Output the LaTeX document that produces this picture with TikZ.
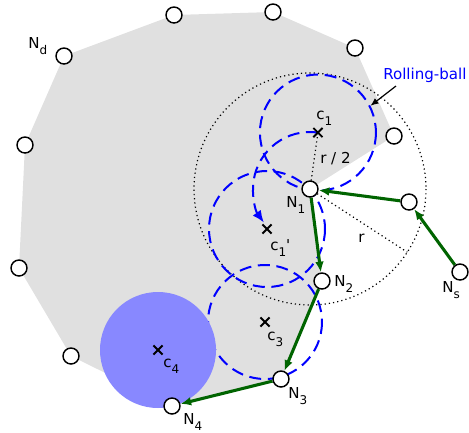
\documentclass[tikz,border=0pt]{standalone}
\usepackage{fontspec}
\setmainfont{DejaVu Sans}
\usetikzlibrary{arrows.meta,shapes.misc}
\definecolor{hullgray}{RGB}{224,224,224}
\definecolor{ballblue}{RGB}{136,136,255}
\definecolor{edgegreen}{RGB}{0,100,0}
\newcommand{\lsub}[1]{\raisebox{-4.5pt}{\fontsize{9}{10}\selectfont #1}}
\pgfdeclarelayer{under}
\pgfsetlayers{under,main}
\begin{document}
\begin{tikzpicture}[x=0.75pt,y=-0.75pt,
  pt/.style={circle,draw=black,fill=white,line width=1.1pt,minimum size=12pt,inner sep=0pt},
  lbl/.style={inner sep=0pt,anchor=base west,font=\fontsize{11.3}{13}\selectfont},
  ctr/.style={cross out,draw=black,line width=1.4pt,minimum size=5.5pt,inner sep=0pt},
  ballpath/.style={blue,line width=1.5pt,dash pattern=on 9pt off 5pt},
  hop/.style={edgegreen,line width=2.3pt,-{Latex[length=8pt,width=6.5pt]}},
  guide/.style={black,line width=0.9pt,dash pattern=on 0.9pt off 2.3pt},
  pointer/.style={black,line width=0.9pt,-{Latex[length=6pt,width=5pt]}},
]
\useasboundingbox (0,0) rectangle (469,433);

% sample points of the boundary
\node[pt] (A)  at (174,15)  {};
\node[pt] (B)  at (273,12)  {};
\node[pt] (C)  at (355,48)  {};
\node[pt] (D)  at (394,136) {};
\node[pt] (N1) at (310,189) {};
\node[pt] (E)  at (409,202) {};
\node[pt] (Ns) at (460,272) {};
\node[pt] (N2) at (322,281) {};
\node[pt] (N3) at (281,379) {};
\node[pt] (N4) at (172,406) {};
\node[pt] (F)  at (71,356)  {};
\node[pt] (G)  at (19,268)  {};
\node[pt] (H)  at (25,145)  {};
\node[pt] (Nd) at (64,56)   {};

% ball centres and helper points
\path (N1.center) ++(-82:57) coordinate (c1);
\coordinate (c1p) at (267,229);
\coordinate (c3)  at (265,322);
\coordinate (c4)  at (158,350);
\path (N1.center) ++(33:116) coordinate (rend);
\path (c1) ++(-27:59) coordinate (rbtip);
\coordinate (rbtail) at (396,86);

\begin{pgfonlayer}{under}
  % region covered by the hull
  \fill[hullgray] (A.center) -- (B.center) -- (C.center) -- (D.center) -- (N1.center)
    -- (N2.center) -- (N3.center) -- (N4.center) -- (F.center) -- (G.center)
    -- (H.center) -- (Nd.center) -- cycle;
  % search radius r around N1
  \draw[guide] (N1.center) circle[radius=116];
  \draw[guide] (N1.center) -- (c1);
  \draw[guide] (N1.center) -- (rend);
  % rolling ball positions
  \draw[ballpath] (c1) circle[radius=58];
  \draw[ballpath] (c1p) circle[radius=58];
  \draw[ballpath] (c3) circle[radius=57];
  \draw[ballpath,-{Latex[length=9pt,width=7.5pt]}] (c1) arc[start angle=-82,end angle=-216,radius=57];
  \fill[ballblue] (c4) circle[radius=58];
  % traversal of the boundary
  \draw[hop] (Ns) -- (E);
  \draw[hop] (E) -- (N1);
  \draw[hop] (N1) -- (N2);
  \draw[hop] (N2) -- (N3);
  \draw[hop] (N3) -- (N4);
\end{pgfonlayer}

% centre marks
\node[ctr] (m1)  at (c1)  {};
\node[ctr] (m1p) at (c1p) {};
\node[ctr] (m3)  at (c3)  {};
\node[ctr] (m4)  at (c4)  {};

% labels
\node[lbl] (lNd) at (28,48)   {N\lsub{d}};
\node[lbl] (lN1) at (286,207) {N\lsub{1}};
\node[lbl] (lN2) at (334,286) {N\lsub{2}};
\node[lbl] (lN3) at (288,398) {N\lsub{3}};
\node[lbl] (lN4) at (183,424) {N\lsub{4}};
\node[lbl] (lNs) at (442,292) {N\lsub{s}};
\node[lbl] (lc1)  at (316,119) {c\lsub{1}};
\node[lbl] (lc1p) at (270,250) {c\lsub{1}\textquotesingle};
\node[lbl] (lc3)  at (267,340) {c\lsub{3}};
\node[lbl] (lc4)  at (163,367) {c\lsub{4}};
\node[lbl] (lhalf) at (320,163) {r / 2};
\node[lbl] (lr)    at (358,242) {r};
\node[lbl,text=blue] (lrb) at (383,79) {Rolling-ball};
\draw[pointer] (rbtail) -- (rbtip);
\end{tikzpicture}
\end{document}
